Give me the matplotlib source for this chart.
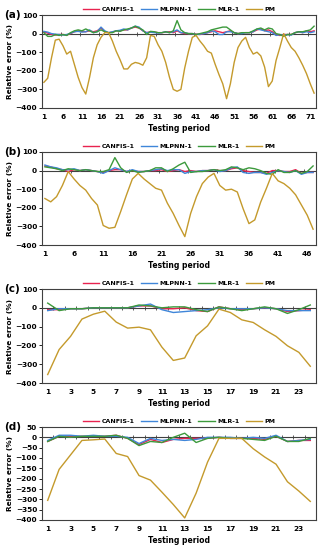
import numpy as np
import matplotlib
matplotlib.use("Agg")
import matplotlib.pyplot as plt

series_names = ["CANFIS-1", "MLPNN-1", "MLR-1", "PM"]
series_colors = ["#E8234F", "#3F86D9", "#3C9A3C", "#C49A2C"]

# panel (a), 72 testing periods
a_canfis = [8, 3, -5, -8, -5, -5, -8, 0, 10, 15, 12, 10, 15, 10, 15, 30, 10, 5, 8, 15,
            15, 20, 20, 30, 35, 30, 15, 5, 10, 8, 5, 5, 8, 10, 5, 15, 5, 0, 0, 0,
            -3, -5, 0, 5, 10, 15, 10, 5, 10, 15, 5, 0, 3, 5, 5, 10, 20, 25, 15, 20,
            10, -5, -10, -5, -5, -5, 5, 10, 5, 15, 10, 15]
a_mlpnn = [12, 8, 0, -3, -5, -8, -5, 2, 10, 12, 8, 10, 20, 5, 10, 35, 15, 5, 10, 15,
           18, 25, 20, 30, 40, 35, 15, 5, 8, 5, 3, 5, 10, 5, 10, 20, 5, 5, 0, 0,
           -5, -3, 0, 5, 15, 10, -5, -5, 10, 10, 5, 0, 0, 5, 5, 10, 25, 20, 15, 10,
           5, -10, -5, -10, -5, -8, 5, 10, 5, 10, 5, 10]
a_mlr = [5, -15, -15, -5, -10, -5, -10, 5, 15, 20, 15, 25, 15, 5, 10, 20, 10, 5, 5, 15,
         12, 20, 25, 30, 40, 30, 20, -5, 12, 10, 5, 5, 10, 5, 15, 70, 20, 5, 0, 0,
         -5, 0, 5, 10, 20, 25, 30, 35, 35, 20, 5, 0, 5, 5, 5, 15, 25, 30, 20, 30,
         25, 0, -5, -15, -5, -5, 5, 10, 10, 15, 20, 40]
a_pm = [-262, -240, -130, -35, -30, -65, -110, -95, -165, -235, -290, -325, -235, -130, -60, -20, 5, 5, -40, -95,
        -140, -190, -190, -165, -155, -160, -170, -130, -10, -15, -60, -95, -155, -235, -300, -310, -300, -185, -95, -20,
        -10, -40, -65, -95, -105, -165, -220, -270, -350, -270, -155, -75, -40, -20, -75, -110, -100, -120, -180, -285,
        -255, -145, -75, 0, -40, -75, -95, -130, -170, -215, -270, -320]
a_ticks = [1, 6, 11, 16, 21, 26, 31, 36, 41, 46, 51, 56, 61, 66, 71]

# panel (b), 47 testing periods
b_canfis = [25, 20, 10, 5, -5, 5, 0, 5, 0, -5, -10, 0, 5, 5, -5, 0, -5, -5, 0, 0,
            5, -5, 0, 5, -5, 0, -5, 0, 0, 5, 0, 0, 10, 15, 0, -5, -10, -10, -15, 0,
            0, -5, -5, 5, -15, -10, -10]
b_mlpnn = [30, 20, 15, 5, 5, 10, 0, 5, 0, -5, -15, 0, 15, 5, -5, 5, -5, -5, 0, 5,
           10, 0, 5, 5, -15, -5, -5, 0, 0, 5, -5, 0, 15, 20, -10, -15, -10, -10, -20, -10,
           0, -5, -10, 0, -20, -10, -10]
b_mlr = [20, 15, 10, 0, 10, 5, 0, 5, 0, -5, -5, 5, 70, 15, -10, 0, -10, -5, 0, 15,
         15, -5, 10, 30, 45, -10, -5, -5, 0, 5, 0, 5, 20, 15, 5, 15, 10, 0, -15, -20,
         5, -10, -10, 0, -15, -5, 25]
b_pm = [-150, -168, -140, -80, -5, -45, -80, -105, -150, -185, -295, -310, -305, -220, -130, -45, -15, -45, -70, -95,
        -105, -175, -230, -295, -355, -230, -140, -70, -35, -15, -80, -105, -100, -115, -205, -285, -265, -170, -95, -15,
        -55, -70, -95, -130, -185, -240, -315]
b_ticks = [1, 6, 11, 16, 21, 26, 31, 36, 41, 46]

# panel (c), 24 testing periods
c_canfis = [-10, -10, -5, -5, 0, 0, 0, 0, 10, 10, -5, -5, 0, -15, -20, 5, -5, -10, -5, 0,
            -5, -20, -15, -10]
c_mlpnn = [-15, -5, -5, -5, 0, 0, 0, 0, 10, 20, -10, -25, -20, -15, -10, 0, -5, -5, -5, 0,
           -5, -15, -15, -15]
c_mlr = [25, -15, -5, -5, 0, 0, 0, 0, 15, 10, 0, 5, 5, -10, -20, 5, -5, -15, -5, 5,
         -5, -30, -10, 15]
c_pm = [-355, -222, -152, -60, -34, -18, -76, -108, -103, -117, -209, -280, -267, -149, -96, -7, -25, -64, -78, -117,
        -152, -202, -237, -311]
c_ticks = [1, 3, 5, 7, 9, 11, 13, 15, 17, 19, 21, 23]

# panel (d), 24 testing periods
d_canfis = [-20, 5, 5, 5, 5, 5, 10, -5, -35, -10, -25, -10, -5, -5, -5, 0, -5, -5, -5, -10,
            5, -20, -15, -15]
d_mlpnn = [-15, 10, 10, 5, 10, 5, 5, 0, -30, -5, -15, -10, -15, -10, 0, 0, 0, -5, 0, -5,
           10, -20, -15, -10]
d_mlr = [-20, 5, 0, 5, 5, 5, 10, -5, -40, -20, -25, 0, 20, -25, -5, 0, -5, -5, -10, -15,
         5, -20, -20, -5]
d_pm = [-305, -155, -85, -15, -12, -8, -78, -93, -185, -207, -265, -325, -390, -270, -120, -5, -5, -5, -55, -95,
        -130, -215, -260, -310]
d_ticks = [1, 3, 5, 7, 9, 11, 13, 15, 17, 19, 21, 23]

W, H = 324, 550
FONT = "DejaVu Sans"


def draw_panel(fig, box, label, series, xticks, yticks):
    left, top, right, bottom = box
    ax = fig.add_axes([left / W, 1 - bottom / H, (right - left) / W, (bottom - top) / H])
    n = len(series[0])
    x = np.arange(1, n + 1)
    for vals, name, col in zip(series, series_names, series_colors):
        ax.plot(x, vals, color=col, lw=1.0, label=name)

    ax.set_xlim(0.5, n + 0.5)
    ax.set_ylim(yticks[0], yticks[-1])
    ax.axhline(0, color="#404040", lw=0.8, zorder=1)

    # small category tick marks sitting on the zero line
    zero = (0 - yticks[0]) / (yticks[-1] - yticks[0])
    sec = ax.secondary_xaxis(zero)
    sec.set_xticks(np.arange(0.5, n + 1, 1 if n < 30 else 5))
    sec.set_xticklabels([])
    sec.tick_params(direction="inout", length=2.5, width=0.6, color="#404040",
                    labelbottom=False, labeltop=False)
    for s in sec.spines.values():
        s.set_visible(False)

    ax.set_xticks(xticks)
    ax.set_yticks(yticks)
    ax.tick_params(axis="x", length=0, pad=4, labelsize=5.3)
    ax.tick_params(axis="y", length=2, width=0.6, pad=1.5, labelsize=5.3)
    for t in ax.get_xticklabels() + ax.get_yticklabels():
        t.set_fontweight("bold")
    for s in ax.spines.values():
        s.set_color("#404040")
        s.set_linewidth(0.8)

    ax.set_xlabel("Testing period", fontsize=5.5, fontweight="bold", labelpad=3)
    ax.set_ylabel("Relative error (%)", fontsize=5.3, fontweight="bold", labelpad=2)
    ax.text(-0.14, 1.0, label, transform=ax.transAxes, fontsize=7.5, fontweight="bold",
            ha="left", va="center")
    ax.legend(loc="lower center", bbox_to_anchor=(0.5, 1.0), ncol=4, frameon=False,
              prop={"size": 4.5, "weight": "bold"}, handlelength=2.6, handletextpad=0.4,
              columnspacing=1.0, borderaxespad=0.1)
    return ax


def draw_chart():
    plt.rcParams["font.family"] = FONT
    fig = plt.figure(figsize=(W / 100, H / 100), dpi=100)
    fig.patch.set_facecolor("white")

    y5 = [-400, -300, -200, -100, 0, 100]
    yd = [-400, -350, -300, -250, -200, -150, -100, -50, 0, 50]

    draw_panel(fig, (42, 15, 316, 108), "(a)", [a_canfis, a_mlpnn, a_mlr, a_pm], a_ticks, y5)
    draw_panel(fig, (42, 152, 316, 245), "(b)", [b_canfis, b_mlpnn, b_mlr, b_pm], b_ticks, y5)
    draw_panel(fig, (42, 289, 316, 383), "(c)", [c_canfis, c_mlpnn, c_mlr, c_pm], c_ticks, y5)
    draw_panel(fig, (42, 427, 316, 520), "(d)", [d_canfis, d_mlpnn, d_mlr, d_pm], d_ticks, yd)

    fig.savefig("out.png", dpi=100)


if __name__ == "__main__":
    draw_chart()
